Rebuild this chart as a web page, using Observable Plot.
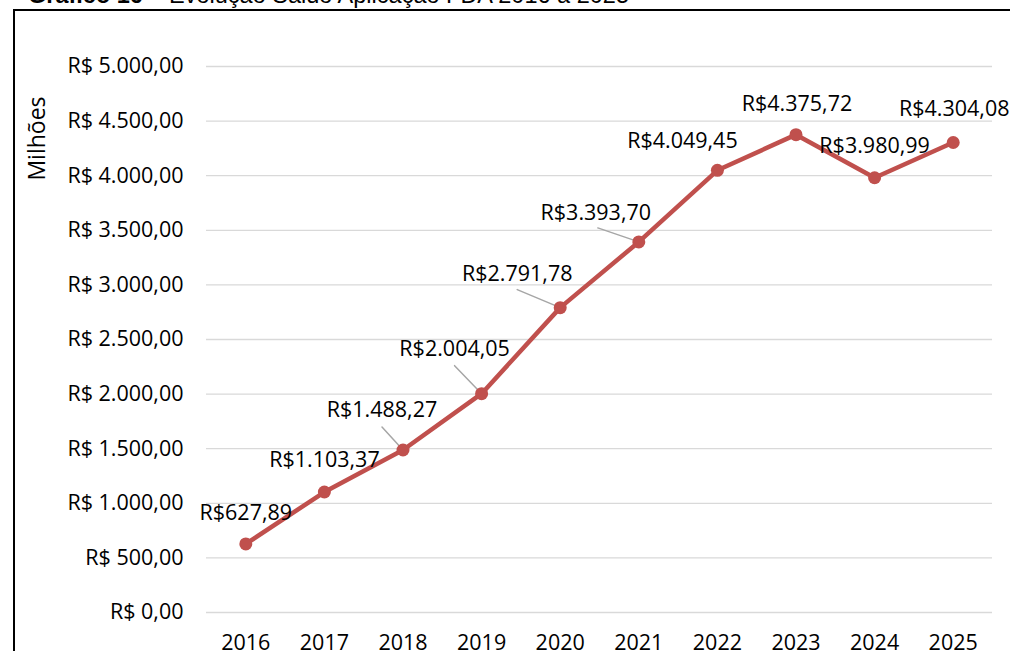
<!DOCTYPE html>
<html>
<head>
<meta charset="utf-8">
<script src="https://cdn.jsdelivr.net/npm/d3@7"></script>
<script src="https://cdn.jsdelivr.net/npm/@observablehq/plot@0.6"></script>
<style>
  html, body { margin: 0; padding: 0; background: #fff; overflow: hidden; }
  #wrap { position: relative; width: 1010px; height: 651px; overflow: hidden; background: #fff; }
  #frame { position: absolute; left: 13px; top: 9px; width: 1200px; height: 800px; border: 2px solid #000; box-sizing: border-box; pointer-events: none; }
  #title { position: absolute; left: 28px; top: -15px; font-family: "Liberation Sans", Arial, sans-serif; font-size: 23.5px; line-height: 20px; color: #000; white-space: nowrap; }
  #chart { position: absolute; left: 0; top: 0; }
</style>
</head>
<body>
<div id="wrap">
  <div id="title"><b>Gráfico 16</b> – Evolução Saldo Aplicação FDA 2016 a 2025</div>
  <div id="chart"></div>
  <div id="frame"></div>
</div>
<script>
const years = ["2016","2017","2018","2019","2020","2021","2022","2023","2024","2025"];
const values = [627.89, 1103.37, 1488.27, 2004.05, 2791.78, 3393.70, 4049.45, 4375.72, 3980.99, 4304.08];
const yTicks = [0, 500, 1000, 1500, 2000, 2500, 3000, 3500, 4000, 4500, 5000];
const yTitle = "Milhões";

// label placement offsets (pixels) – styling only
const labelDx = [0, 0, -21, -27, -43, -43, -35, 1, 0, 1];
const labelDy = [-31, -32, -40, -45, -34, -29, -29, -31, -32, -33];
// leader line end offsets (pixels) for labels moved off their point
const leaderDx = [null, null, -21, -27, -43, -41, null, null, null, null];
const leaderDy = [null, null, -23, -28, -18, -14, null, null, null, null];

const locLabel = d3.formatLocale({decimal: ",", thousands: ".", grouping: [3], currency: ["R$", ""]});
const locAxis = d3.formatLocale({decimal: ",", thousands: ".", grouping: [3], currency: ["R$ ", ""]});
const fmtLabel = locLabel.format("$,.2f");
const fmtAxis = locAxis.format("$,.2f");

const data = years.map((yr, i) => ({year: yr, value: values[i], i}));
const leaders = data.filter(d => leaderDx[d.i] != null).map(d => ({
  ...d,
  len: Math.hypot(leaderDx[d.i], leaderDy[d.i]),
  rot: Math.atan2(leaderDx[d.i], -leaderDy[d.i]) * 180 / Math.PI
}));

const RED = "#C0504D";
const FONT = "'Open Sans', sans-serif";
const FS = 21.5;

const lineShape = {
  draw(context, l) { context.moveTo(0, 0); context.lineTo(0, -l); }
};

const chart = Plot.plot({
  width: 1010,
  height: 651,
  marginLeft: 206,
  marginRight: 18,
  marginTop: 66,
  marginBottom: 39,
  style: {fontFamily: FONT, fontSize: FS + "px", color: "#000", background: "transparent"},
  x: {type: "point", domain: years, padding: 0.5, round: false},
  y: {domain: [0, 5000]},
  length: {type: "identity"},
  marks: [
    Plot.gridY(yTicks, {stroke: "#d9d9d9", strokeOpacity: 1, strokeWidth: 1.3}),
    Plot.axisY(yTicks, {tickSize: 0, tickPadding: 23, tickFormat: fmtAxis, fontSize: FS, label: null, fill: "#000"}),
    Plot.axisX(years, {tickSize: 0, tickPadding: 22, fontSize: FS, label: null, fill: "#000"}),
    Plot.text([yTitle], {frameAnchor: "left", dx: -169, dy: -201, rotate: -90, fontSize: 23, fill: "#000", textAnchor: "middle"}),
    Plot.vector(leaders, {x: "year", y: "value", length: "len", rotate: "rot", anchor: "start", shape: lineShape, stroke: "#a6a6a6", strokeWidth: 1.5}),
    Plot.line(data, {x: "year", y: "value", stroke: RED, strokeWidth: 4.5, strokeLinejoin: "round"}),
    Plot.dot(data, {x: "year", y: "value", r: 6.5, fill: RED, stroke: "none"}),
    ...data.map(d => Plot.text([d], {x: "year", y: "value", text: v => fmtLabel(v.value), dx: labelDx[d.i], dy: labelDy[d.i], fontSize: FS, fill: "#000"}))
  ]
});
document.getElementById("chart").appendChild(chart);
</script>
</body>
</html>
